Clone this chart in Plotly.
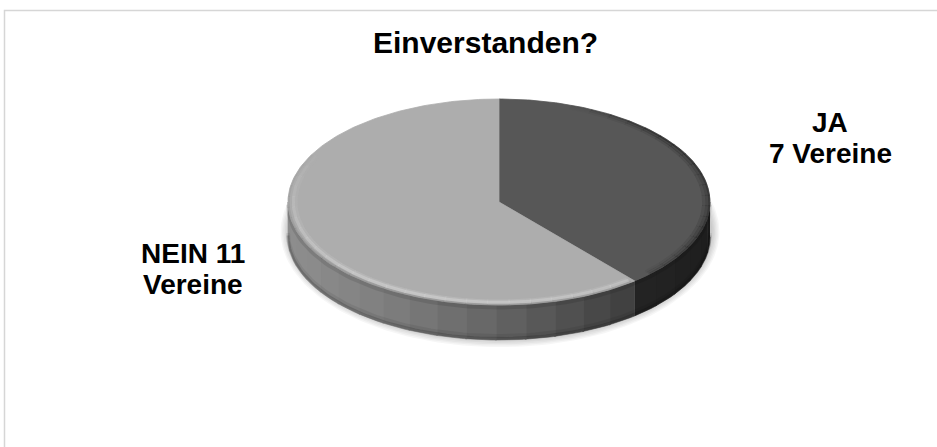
import numpy as np
import plotly.graph_objects as go

# ---- data ----
categories = ["JA", "NEIN"]
values = [7, 11]
label_lines = [["JA", "7 Vereine"], ["NEIN 11", "Vereine"]]
title_text = "Einverstanden?"

# ---- styles / geometry ----
top_colors = ["#575757", "#adadad"]
W, H = 937, 447
cx, cy, a, b, h = 499, 202, 211, 103, 35
FONT = "Liberation Sans, Arial, sans-serif"


def ell(t_deg, dy=0.0, s=1.0):
    t = np.radians(t_deg)
    return cx + s * a * np.sin(t), cy + dy - s * b * np.cos(t)


fig = go.Figure()


def add_line(x, y, col, w):
    fig.add_trace(go.Scatter(x=x, y=y, mode="lines", line=dict(width=w, color=col),
                             hoverinfo="skip", showlegend=False))


# shadow below the pie
for k in range(6, 0, -1):
    t = np.linspace(0, 360, 241)
    x = cx + 1 + (a + k * 1.4) * np.sin(np.radians(t))
    y = cy + h * 0.85 + (b + 4 + k * 1.4) * (-np.cos(np.radians(t)))
    fig.add_trace(go.Scatter(x=x, y=y, mode="lines", fill="toself",
                             fillcolor="rgba(0,0,0,0.035)", line=dict(width=0),
                             hoverinfo="skip", showlegend=False))

# slice angles (clockwise from 12 o'clock)
total = sum(values)
starts, ends = [], []
acc = 0.0
for v in values:
    starts.append(acc)
    acc += v / total * 360
    ends.append(acc)


def wall_gray(i, t_mid):
    if categories[i] == "JA":
        f = (t_mid - 90) / 50.0
        return 28 + 8 * f
    xm, _ = ell(t_mid)
    frac = (xm - (cx - a)) / (ell(ends[0])[0] - (cx - a))
    frac = min(max(frac, 0), 1)
    return 142 - 80 * frac ** 1.3


# side walls (front half only)
for i in range(len(values)):
    lo, hi = max(starts[i], 90), min(ends[i], 270)
    if hi <= lo:
        continue
    nb = max(1, int(round((hi - lo) / 8)))
    edges = np.linspace(lo, hi, nb + 1)
    for j in range(nb):
        t = np.linspace(edges[j], edges[j + 1] + (0.4 if j < nb - 1 else 0), 12)
        xt, yt = ell(t)
        xb, yb = ell(t[::-1], dy=h)
        g = int(wall_gray(i, (edges[j] + edges[j + 1]) / 2))
        col = f"rgb({g},{g},{g})"
        fig.add_trace(go.Scatter(x=np.r_[xt, xb], y=np.r_[yt, yb], mode="lines",
                                 fill="toself", fillcolor=col, line=dict(width=0.6, color=col),
                                 hoverinfo="skip", showlegend=False))

# soft shading: top of wall (just under the rim) and lower rim
t = np.linspace(90, 270, 120)
for dy, col, w in [(2.5, "rgba(0,0,0,0.10)", 4), (h - 1.5, "rgba(0,0,0,0.16)", 3),
                   (h - 4, "rgba(0,0,0,0.07)", 4)]:
    x, y = ell(t, dy=dy)
    add_line(x, y, col, w)

# top faces
for i in range(len(values)):
    t = np.linspace(starts[i], ends[i], 200)
    x, y = ell(t)
    fig.add_trace(go.Scatter(x=np.r_[cx, x, cx], y=np.r_[cy, y, cy], mode="lines",
                             fill="toself", fillcolor=top_colors[i],
                             line=dict(width=0.8, color=top_colors[i]),
                             name=categories[i], hoverinfo="skip", showlegend=False))

# bevel on light slice: soft highlight band fading towards the back
seg = np.arange(ends[0] + 1, 320, 6.0)
for j in range(len(seg) - 1):
    tm = (seg[j] + seg[j + 1]) / 2
    fade = float(np.clip(np.cos(np.radians(tm - 200) * 0.9), 0, 1))
    t = np.linspace(seg[j], seg[j + 1] + 0.3, 6)
    for s, alpha, w, base in [(0.997, 0.35, 2.0, 110), (0.988, 0.35, 3.0, 170),
                              (0.975, 0.65, 3.0, 210), (0.962, 0.35, 3.0, 200)]:
        x, y = ell(t, s=s)
        add_line(x, y, f"rgba({base},{base},{base},{alpha * fade:.3f})", w)

# bevel on dark slice: darker rim on the right
seg = np.arange(20, ends[0] - 1, 6.0)
for j in range(len(seg) - 1):
    tm = (seg[j] + seg[j + 1]) / 2
    fade = float(np.clip(np.sin(np.radians((tm - 20) / (ends[0] - 20) * 180)) * 1.3, 0, 1))
    fade = max(fade, 0.4 if tm > 80 else fade)
    t = np.linspace(seg[j], seg[j + 1] + 0.3, 6)
    for s, alpha, w in [(0.997, 0.45, 2.0), (0.985, 0.25, 3.0), (0.97, 0.12, 3.0)]:
        x, y = ell(t, s=s)
        add_line(x, y, f"rgba(20,20,20,{alpha * fade:.3f})", w)

annotations = [dict(x=485, y=42, text=title_text, showarrow=False,
                    font=dict(family=FONT, size=30, color="#000", weight="bold"),
                    xref="x", yref="y", xanchor="center", yanchor="middle")]
label_pos = {"JA": (830, 122), "NEIN": (193, 253)}
for i, cat in enumerate(categories):
    lx, ly = label_pos[cat]
    for k, line in enumerate(label_lines[i]):
        annotations.append(dict(x=lx, y=ly + 31 * k, text=line, showarrow=False,
                                font=dict(family=FONT, size=28, color="#000", weight="bold"),
                                xref="x", yref="y", xanchor="center", yanchor="middle"))

fig.update_layout(
    width=W, height=H, margin=dict(l=0, r=0, t=0, b=0),
    paper_bgcolor="white", plot_bgcolor="white",
    xaxis=dict(range=[0, W], visible=False, fixedrange=True),
    yaxis=dict(range=[H, 0], visible=False, fixedrange=True),
    annotations=annotations,
    shapes=[dict(type="rect", xref="paper", yref="paper", x0=4.5 / W, x1=1.02,
                 y0=-0.02, y1=1 - 10.5 / H, line=dict(color="#d6d6d6", width=1.5))],
)

fig.write_html("out.html")
